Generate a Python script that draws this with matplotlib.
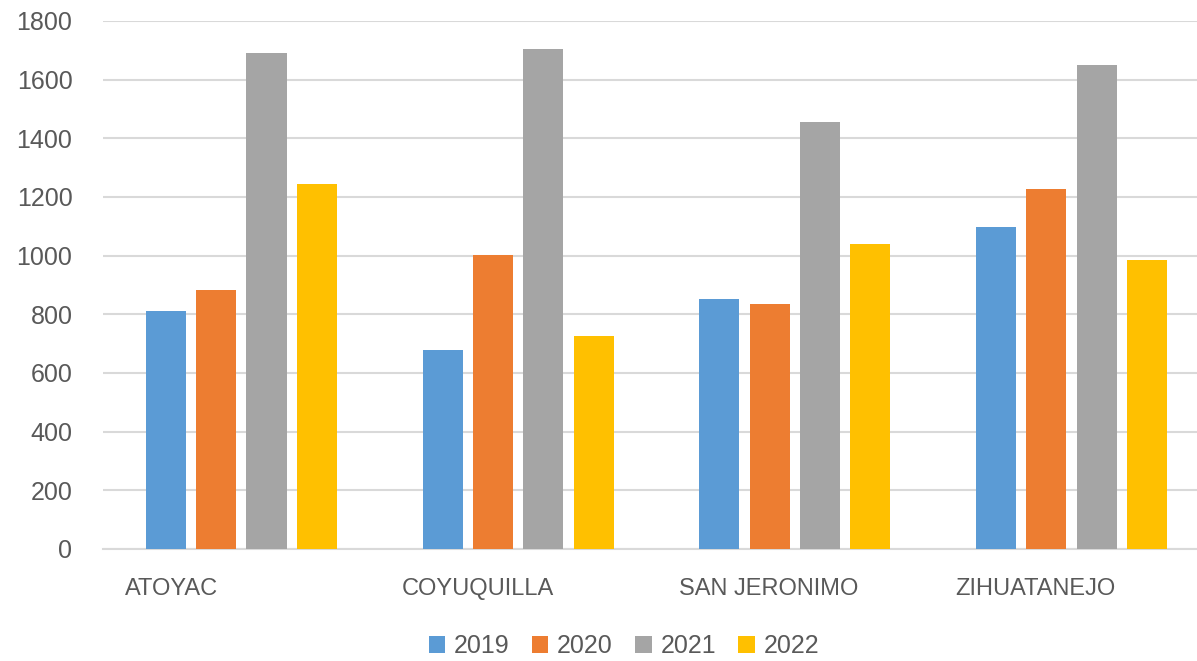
import matplotlib
matplotlib.use("Agg")
import matplotlib.pyplot as plt
import numpy as np

# data
municipios = ["ATOYAC", "COYUQUILLA", "SAN JERONIMO", "ZIHUATANEJO"]
years = ["2019", "2020", "2021", "2022"]
v2019 = [813, 678, 851, 1098]
v2020 = [883, 1002, 836, 1227]
v2021 = [1691, 1706, 1457, 1651]
v2022 = [1243, 726, 1039, 985]
yticks = [0, 200, 400, 600, 800, 1000, 1200, 1400, 1600, 1800]

colors = ["#5B9BD5", "#ED7D31", "#A5A5A5", "#FFC000"]
series = [v2019, v2020, v2021, v2022]

plt.rcParams["font.family"] = ["Liberation Sans", "DejaVu Sans"]
text_color = "#595959"

fig = plt.figure(figsize=(11.97, 6.61), dpi=100)
ax = fig.add_axes([103 / 1197, 1 - 549 / 661, 1 - 103 / 1197, (549 - 21) / 661])

x = np.arange(len(municipios))
width = 0.145
step = 0.182
for i, (vals, col, yr) in enumerate(zip(series, colors, years)):
    ax.bar(x + (i - 1.5) * step, vals, width, color=col, label=yr, zorder=3)

ax.set_ylim(0, 1800)
ax.set_yticks(yticks)
ax.set_xlim(-0.5, 3.5 - 13 / 277)
ax.yaxis.grid(True, color="#D9D9D9", linewidth=1.5, zorder=0)
for s in ["top", "right", "left"]:
    ax.spines[s].set_visible(False)
ax.spines["bottom"].set_color("#D9D9D9")
ax.spines["bottom"].set_linewidth(1.5)
ax.tick_params(axis="y", length=0, pad=22, labelsize=18, labelcolor=text_color)

ax.set_xticks(x - 0.42)
ax.set_xticklabels(municipios, ha="left")
ax.tick_params(axis="x", length=0, pad=21, labelsize=17, labelcolor=text_color)

leg = ax.legend(loc="center", bbox_to_anchor=(624 / 1197, 1 - 646 / 661),
                bbox_transform=fig.transFigure, ncol=4, frameon=False,
                fontsize=18, handlelength=0.65, handleheight=0.65,
                handletextpad=0.35, columnspacing=0.9)
for t in leg.get_texts():
    t.set_color(text_color)

fig.savefig("out.png", dpi=100)
